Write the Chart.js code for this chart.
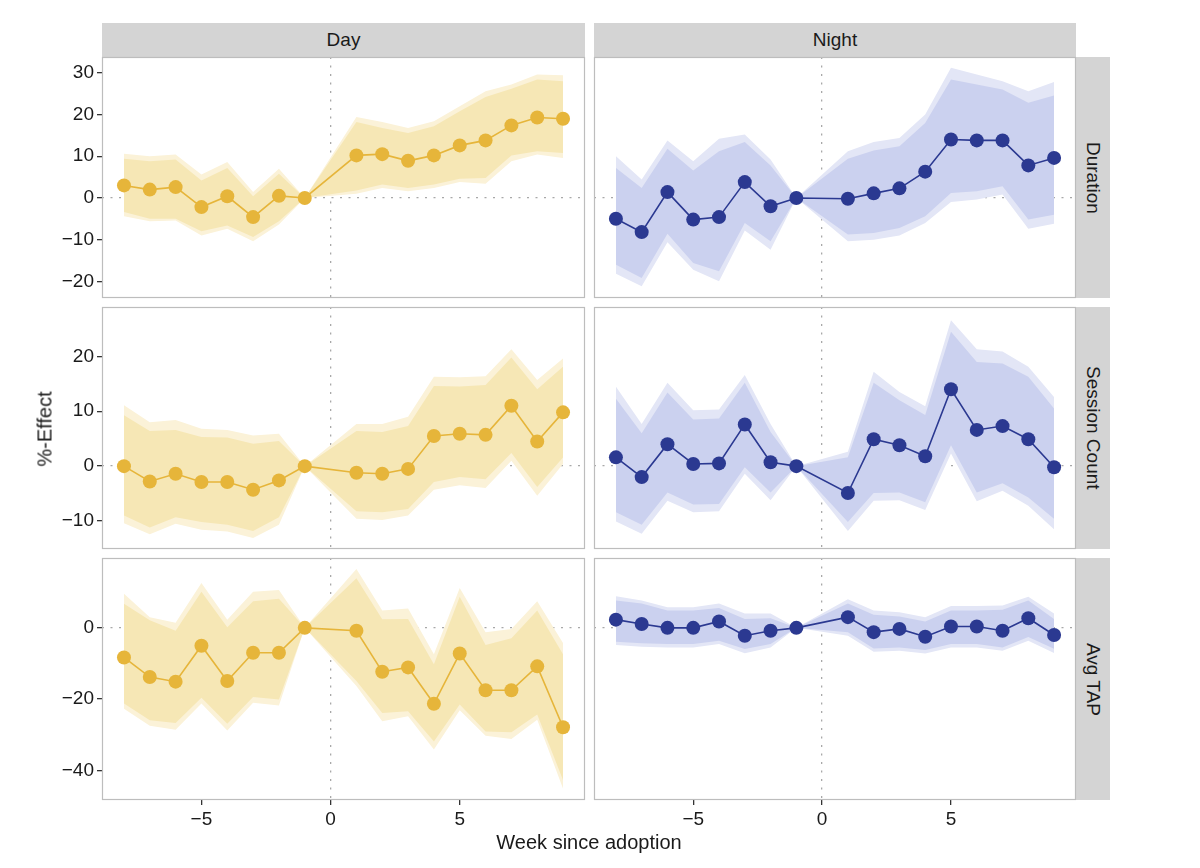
<!DOCTYPE html>
<html>
<head>
<meta charset="utf-8">
<title>Week since adoption</title>
<script src="https://cdn.jsdelivr.net/npm/chart.js@4.4.0/dist/chart.umd.min.js"></script>
<style>
    body { margin: 0; background: #fff; font-family: "Liberation Sans", Arial, sans-serif; }
    #wrap { position: relative; width: 1200px; height: 868px; overflow: hidden; }
    .box { position: absolute; }
    .strip { position: absolute; background: #d4d4d4; color: #1a1a1a; font-size: 19px;
             display: flex; align-items: center; justify-content: center; }
    .strip.v span { writing-mode: vertical-rl; }
    .title { position: absolute; color: #1a1a1a; font-size: 20px; white-space: nowrap; }
</style>
</head>
<body>
<div id="wrap"></div>
<script>
// x 轴：第几周（-1 为基准，没有 0）
const weeks = [-8, -7, -6, -5, -4, -3, -2, -1, 1, 2, 3, 4, 5, 6, 7, 8, 9];
const xTickValues = [-5, 0, 5];

const facetCols = ['Day', 'Night'];
const facetRows = ['Duration', 'Session Count', 'Avg TAP'];

const durationTicks = [-20, -10, 0, 10, 20, 30];
const sessionTicks = [-10, 0, 10, 20];
const tapTicks = [-40, -20, 0];

// Day - Duration
const dayDuration        = [3.0, 2.0, 2.6, -2.2, 0.4, -4.6, 0.5, 0, 10.2, 10.5, 8.9, 10.2, 12.6, 13.8, 17.4, 19.3, 19.0];
const dayDurationInnerHi = [9.4, 8.8, 9.2, 4.2, 7.2, 0.4, 5.8, 0, 18.2, 16.8, 15.6, 17.2, 20.8, 24.2, 26.2, 28.4, 28.0];
const dayDurationInnerLo = [-3.4, -5.0, -5.0, -8.0, -6.6, -9.4, -5.6, 0, 1.8, 3.2, 2.4, 3.2, 4.6, 4.8, 10.2, 11.2, 10.8];
const dayDurationOuterHi = [10.6, 10.0, 10.4, 5.6, 8.6, 1.4, 7.0, 0, 19.4, 18.2, 16.8, 18.4, 22.0, 25.6, 27.2, 29.6, 29.4];
const dayDurationOuterLo = [-4.4, -5.6, -5.4, -9.0, -7.4, -10.4, -6.4, 0, 1.0, 2.4, 1.6, 2.4, 3.8, 3.4, 8.8, 10.4, 9.6];

// Night - Duration
const nightDuration        = [-5.0, -8.2, 1.4, -5.2, -4.6, 3.8, -2.0, 0, -0.2, 1.1, 2.3, 6.3, 14.0, 13.8, 13.8, 7.8, 9.6];
const nightDurationInnerHi = [7.2, 2.4, 11.8, 6.6, 11.2, 13.4, 7.8, 0, 9.4, 11.4, 12.4, 18.0, 28.4, 27.2, 26.0, 22.8, 24.6];
const nightDurationInnerLo = [-16.0, -19.2, -8.6, -15.6, -17.6, -6.0, -10.4, 0, -8.8, -8.4, -7.2, -4.4, 1.2, 1.6, 2.8, -5.2, -4.0];
const nightDurationOuterHi = [10.0, 4.4, 13.8, 8.8, 14.2, 15.2, 9.2, 0, 11.2, 13.4, 14.4, 20.0, 31.2, 29.6, 28.0, 25.6, 27.8];
const nightDurationOuterLo = [-18.2, -21.2, -10.6, -17.2, -20.0, -7.8, -12.4, 0, -10.4, -10.0, -9.0, -6.0, -1.0, -0.4, 0.8, -7.4, -6.2];

// Day - Session Count
const daySession        = [0, -2.8, -1.4, -2.9, -2.9, -4.3, -2.6, 0, -1.2, -1.4, -0.5, 5.5, 5.9, 5.7, 11.0, 4.5, 9.8];
const daySessionInnerHi = [9.3, 6.4, 6.6, 5.3, 5.2, 4.1, 4.6, 0, 6.4, 6.2, 7.3, 14.6, 14.5, 14.8, 19.8, 14.0, 18.1];
const daySessionInnerLo = [-9.0, -11.2, -9.3, -10.2, -10.7, -11.8, -9.3, 0, -8.2, -8.4, -7.8, -2.9, -2.0, -2.4, 2.4, -3.8, 1.6];
const daySessionOuterHi = [11.1, 8.0, 8.4, 6.8, 6.6, 5.6, 5.9, 0, 7.7, 7.7, 9.0, 16.3, 16.2, 16.4, 21.3, 15.7, 19.6];
const daySessionOuterLo = [-10.4, -12.4, -10.5, -11.6, -11.9, -13.1, -10.7, 0, -9.6, -9.8, -9.0, -4.3, -3.5, -4.0, 1.0, -5.4, 0.4];

// Night - Session Count
const nightSession        = [1.6, -2.0, 4.0, 0.4, 0.5, 7.6, 0.7, 0, -4.9, 4.9, 3.8, 1.8, 14.0, 6.6, 7.3, 4.9, -0.2];
const nightSessionInnerHi = [12.3, 6.0, 13.4, 8.5, 8.7, 15.2, 6.2, 0, 1.6, 15.2, 12.0, 9.3, 24.5, 19.0, 18.7, 16.3, 10.5];
const nightSessionInnerLo = [-8.4, -10.7, -4.8, -7.0, -6.9, -0.2, -4.8, 0, -10.2, -4.9, -4.8, -6.6, 3.8, -4.8, -3.1, -5.7, -9.6];
const nightSessionOuterHi = [14.5, 7.7, 15.2, 10.2, 10.3, 16.6, 7.7, 0, 2.6, 17.2, 13.5, 10.9, 26.6, 21.3, 20.9, 18.1, 12.6];
const nightSessionOuterLo = [-10.1, -12.3, -6.3, -8.4, -8.2, -1.4, -6.2, 0, -11.8, -6.3, -6.2, -8.0, 2.3, -6.4, -4.5, -7.2, -11.5];

// Day - Avg TAP
const dayTap        = [-8.3, -13.8, -15.1, -5.0, -14.9, -7.0, -7.0, 0, -0.8, -12.3, -11.1, -21.3, -7.2, -17.5, -17.5, -10.8, -27.9];
const dayTapInnerHi = [6.8, 2.1, -0.8, 10.1, 0.2, 7.5, 8.2, 0, 13.9, 2.4, 2.5, -10.2, 8.7, -4.8, -2.9, 4.9, -7.4];
const dayTapInnerLo = [-21.2, -25.9, -26.7, -19.6, -26.9, -19.4, -20.1, 0, -14.9, -23.9, -23.4, -31.9, -21.5, -29.1, -29.3, -24.3, -42.7];
const dayTapOuterHi = [9.6, 3.0, 1.4, 12.6, 2.3, 10.1, 10.6, 0, 16.5, 4.9, 5.4, -7.4, 11.2, -1.2, -0.3, 7.5, -4.3];
const dayTapOuterLo = [-22.7, -27.5, -28.6, -21.2, -28.8, -21.0, -21.8, 0, -16.3, -26.2, -24.8, -34.1, -23.1, -30.3, -31.2, -25.8, -45.1];

// Night - Avg TAP
const nightTap        = [2.3, 1.1, 0, 0, 1.8, -2.2, -0.8, 0, 3.0, -1.2, -0.3, -2.5, 0.4, 0.4, -0.8, 2.7, -2.0];
const nightTapInnerHi = [7.7, 6.8, 4.9, 4.9, 5.6, 2.5, 2.7, 0, 6.8, 3.7, 3.2, 1.8, 4.9, 4.9, 5.1, 7.7, 2.5];
const nightTapInnerLo = [-3.9, -4.3, -4.5, -4.5, -3.6, -5.9, -4.5, 0, -1.2, -5.8, -5.5, -6.2, -4.5, -4.5, -5.5, -2.6, -5.9];
const nightTapOuterHi = [8.9, 7.7, 5.8, 5.8, 6.8, 4.0, 4.0, 0, 8.0, 4.9, 4.4, 3.0, 6.1, 6.1, 6.3, 8.7, 4.0];
const nightTapOuterLo = [-4.8, -5.3, -5.5, -5.5, -4.5, -7.1, -5.5, 0, -2.2, -6.7, -6.4, -7.2, -5.5, -5.5, -6.4, -3.6, -7.1];

// 颜色
const palette = {
    Day:   { main: '#e6b53a', inner: '#f6e7b5', outer: '#fbf2d8' },
    Night: { main: '#2b3991', inner: '#cbd1ef', outer: '#e3e6f6' }
};

// 面板位置（像素）
const colBox = [{ left: 102, right: 585 }, { left: 594, right: 1076 }];
const rowBox = [{ top: 57, bottom: 298 }, { top: 307, bottom: 549 }, { top: 558, bottom: 800 }];
const xRange = { min: -8.85, max: 9.85 };
const yRanges = [{ min: -24.0, max: 33.8 }, { min: -15.1, max: 29.0 }, { min: -48.3, max: 19.6 }];
const yTickSets = [durationTicks, sessionTicks, tapTicks];

const panels = [
    [[dayDuration, dayDurationInnerLo, dayDurationInnerHi, dayDurationOuterLo, dayDurationOuterHi],
     [nightDuration, nightDurationInnerLo, nightDurationInnerHi, nightDurationOuterLo, nightDurationOuterHi]],
    [[daySession, daySessionInnerLo, daySessionInnerHi, daySessionOuterLo, daySessionOuterHi],
     [nightSession, nightSessionInnerLo, nightSessionInnerHi, nightSessionOuterLo, nightSessionOuterHi]],
    [[dayTap, dayTapInnerLo, dayTapInnerHi, dayTapOuterLo, dayTapOuterHi],
     [nightTap, nightTapInnerLo, nightTapInnerHi, nightTapOuterLo, nightTapOuterHi]]
];

Chart.defaults.font.family = '"Liberation Sans", Arial, sans-serif';
Chart.defaults.font.size = 19;
Chart.defaults.color = '#1a1a1a';

const PAD = 2;
const AXIS_W = 62;
const AXIS_H = 30;

const wrap = document.getElementById('wrap');

// 面板边框
const framePlugin = {
    id: 'frame',
    afterDraw(chart) {
        const a = chart.chartArea;
        const ctx = chart.ctx;
        ctx.save();
        ctx.strokeStyle = '#bdbdbd';
        ctx.lineWidth = 1.2;
        ctx.strokeRect(a.left + 0.5, a.top + 0.5, a.right - a.left - 1, a.bottom - a.top - 1);
        ctx.restore();
    }
};

function fmt(v) {
    return v < 0 ? '\u2212' + Math.abs(v) : String(v);
}

function zeroGrid(c) {
    return c.tick && c.tick.value === 0 ? '#a8a8a8' : 'rgba(0,0,0,0)';
}

function toPoints(values) {
    return weeks.map((w, i) => ({ x: w, y: values[i] }));
}

function noPadding(axis) {
    axis.paddingTop = 0;
    axis.paddingBottom = 0;
    axis.paddingLeft = 0;
    axis.paddingRight = 0;
}

function makePanel(r, c) {
    const [est, innerLo, innerHi, outerLo, outerHi] = panels[r][c];
    const col = palette[facetCols[c]];
    const showY = c === 0;
    const showX = r === rowBox.length - 1;
    const axW = showY ? AXIS_W : 0;
    const axH = showX ? AXIS_H : 0;
    const pw = colBox[c].right - colBox[c].left;
    const ph = rowBox[r].bottom - rowBox[r].top;

    const box = document.createElement('div');
    box.className = 'box';
    box.style.left = (colBox[c].left - axW - PAD) + 'px';
    box.style.top = (rowBox[r].top - PAD) + 'px';
    const canvas = document.createElement('canvas');
    canvas.width = pw + axW + PAD * 2;
    canvas.height = ph + axH + PAD * 2;
    box.appendChild(canvas);
    wrap.appendChild(box);

    const band = { borderWidth: 0, pointRadius: 0, tension: 0 };

    new Chart(canvas, {
        type: 'line',
        data: {
            datasets: [
                { data: toPoints(est), borderColor: col.main, backgroundColor: col.main,
                  borderWidth: 1.6, pointRadius: 7, pointBorderWidth: 0,
                  pointBackgroundColor: col.main, tension: 0, fill: false, order: 0 },
                { ...band, data: toPoints(innerHi), backgroundColor: col.inner, fill: 2, order: 1 },
                { ...band, data: toPoints(innerLo), fill: false, order: 1 },
                { ...band, data: toPoints(outerHi), backgroundColor: col.outer, fill: 4, order: 2 },
                { ...band, data: toPoints(outerLo), fill: false, order: 2 }
            ]
        },
        options: {
            responsive: false,
            animation: false,
            layout: { padding: PAD, autoPadding: false },
            plugins: { legend: { display: false }, tooltip: { enabled: false } },
            scales: {
                x: {
                    type: 'linear',
                    min: xRange.min,
                    max: xRange.max,
                    z: 1,
                    border: { display: false, dash: [2, 6.5] },
                    grid: { color: zeroGrid, lineWidth: 1.3,
                            drawTicks: showX, tickLength: 5, tickColor: '#333', tickBorderDash: [] },
                    ticks: { display: showX, padding: 3, callback: fmt },
                    afterBuildTicks: axis => { axis.ticks = xTickValues.map(v => ({ value: v })); },
                    afterFit: axis => { axis.height = axH; noPadding(axis); }
                },
                y: {
                    min: yRanges[r].min,
                    max: yRanges[r].max,
                    z: 1,
                    border: { display: false, dash: [2, 6.5] },
                    grid: { color: zeroGrid, lineWidth: 1.3,
                            drawTicks: showY, tickLength: 5, tickColor: '#333', tickBorderDash: [] },
                    ticks: { display: showY, padding: 3, callback: fmt },
                    afterBuildTicks: axis => { axis.ticks = yTickSets[r].map(v => ({ value: v })); },
                    afterFit: axis => { axis.width = axW; noPadding(axis); }
                }
            }
        },
        plugins: [framePlugin]
    });
}

// 分面标签
function addStrip(text, left, top, width, height, vertical) {
    const s = document.createElement('div');
    s.className = 'strip' + (vertical ? ' v' : '');
    s.style.left = left + 'px';
    s.style.top = top + 'px';
    s.style.width = width + 'px';
    s.style.height = height + 'px';
    const span = document.createElement('span');
    span.textContent = text;
    s.appendChild(span);
    wrap.appendChild(s);
}

facetCols.forEach((name, c) => {
    addStrip(name, colBox[c].left, 23, colBox[c].right - colBox[c].left, 34, false);
});
facetRows.forEach((name, r) => {
    addStrip(name, 1076, rowBox[r].top, 34, rowBox[r].bottom - rowBox[r].top, true);
});

for (let r = 0; r < rowBox.length; r++) {
    for (let c = 0; c < colBox.length; c++) makePanel(r, c);
}

// 坐标轴标题
const yTitle = document.createElement('div');
yTitle.className = 'title';
yTitle.textContent = '%-Effect';
yTitle.style.left = '45px';
yTitle.style.top = '429px';
yTitle.style.transform = 'translate(-50%, -50%) rotate(-90deg)';
wrap.appendChild(yTitle);

const xTitle = document.createElement('div');
xTitle.className = 'title';
xTitle.textContent = 'Week since adoption';
xTitle.style.left = '589px';
xTitle.style.top = '842px';
xTitle.style.transform = 'translate(-50%, -50%)';
wrap.appendChild(xTitle);
</script>
</body>
</html>
